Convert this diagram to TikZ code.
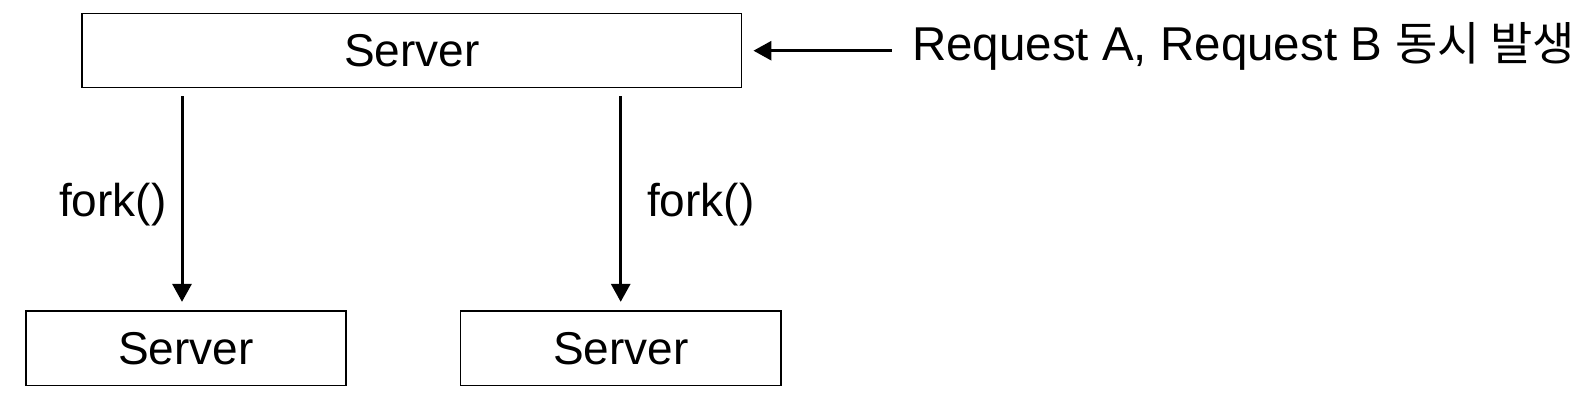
\documentclass[tikz,border=0pt]{standalone}
\usepackage{fontspec}
\setmainfont{Liberation Sans}
\newfontfamily\krfont{Noto Sans CJK KR}
\usetikzlibrary{arrows.meta,calc}
\begin{document}
\begin{tikzpicture}[x=1pt,y=-1pt,
  box/.style={draw=black, line width=1.6pt, inner sep=0pt, font=\fontsize{46}{50}\selectfont},
  arr/.style={line width=3pt, -{Triangle[length=18pt,width=19pt]}},
  lbl/.style={inner sep=0pt, font=\fontsize{46}{50}\selectfont}]
\useasboundingbox[fill=white] (0,0) rectangle (1596,404);
\node[box, minimum width=659.7pt, minimum height=74pt] (top) at (411.8,50.7) {Server};
\node[box, minimum width=320pt, minimum height=74.7pt] (bl) at (186,348.3) {Server};
\node[box, minimum width=320.3pt, minimum height=74.7pt] (br) at (620.8,348.3) {Server};
\coordinate (s1) at (182,96);
\coordinate (s2) at (620.7,96);
\draw[arr, shorten >=8.3pt] (s1) -- (s1 |- bl.north);
\draw[arr, shorten >=8.3pt] (s2) -- (s2 |- br.north);
\node[lbl, anchor=base west] (f1) at (59,216.7) {fork()};
\node[lbl, anchor=base west] (f2) at (647,216.7) {fork()};
\node[lbl, anchor=base west, font=\fontsize{47.5}{52}\selectfont] (req) at (912,61) {Request A, Request B {\krfont\fontsize{46}{50}\selectfont 동시 발생}};
\coordinate (rq) at (891.7,50.7);
\draw[arr, shorten >=11pt] (rq) -- (top.east);
\end{tikzpicture}
\end{document}
